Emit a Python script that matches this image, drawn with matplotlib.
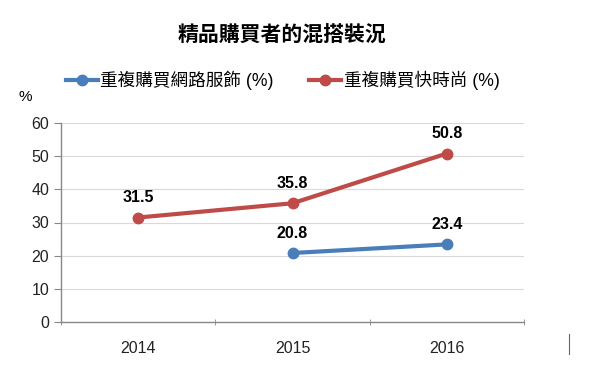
import matplotlib
matplotlib.use("Agg")
import matplotlib.pyplot as plt
import numpy as np
from matplotlib.lines import Line2D

plt.rcParams["font.family"] = ["Liberation Sans", "Noto Sans CJK TC", "DejaVu Sans"]

TITLE = "精品購買者的混搭裝況"
YEARS = ["2014", "2015", "2016"]
ONLINE_LABEL = "重複購買網路服飾 (%)"
ONLINE = [np.nan, 20.8, 23.4]
FAST_LABEL = "重複購買快時尚 (%)"
FAST = [31.5, 35.8, 50.8]

BLUE = "#4A7EBB"
RED = "#BE4B48"
GRAY = "#888888"

fig = plt.figure(figsize=(6.0, 3.73), dpi=100)
ax = fig.add_axes([61 / 600, 1 - 322 / 373, (524 - 61) / 600, (322 - 123) / 373])

x = np.arange(len(YEARS))
ax.plot(x, ONLINE, color=BLUE, lw=3, marker="o", ms=7.5, label=ONLINE_LABEL,
        solid_capstyle="round", zorder=3)
ax.plot(x, FAST, color=RED, lw=3, marker="o", ms=7.5, label=FAST_LABEL,
        solid_capstyle="round", zorder=3)

# data labels above the points
for series in (ONLINE, FAST):
    for xi, v in zip(x, series):
        if np.isnan(v):
            continue
        ax.annotate(f"{v:.1f}", (xi, v), xytext=(0, 20), textcoords="offset pixels",
                    ha="center", va="center", fontsize=11.5, fontweight="bold")

ax.set_xlim(-0.5, len(YEARS) - 0.5)
ax.set_ylim(0, 60)
ax.set_yticks(range(0, 61, 10))
ax.set_xticks(x)
ax.set_xticklabels(YEARS)
ax.set_xticks(np.arange(-0.5, len(YEARS), 1), minor=True)
ax.tick_params(axis="x", which="major", length=0, pad=14, labelsize=11.5, colors="#222222")
ax.tick_params(axis="x", which="minor", length=5, color=GRAY, direction="inout")
ax.tick_params(axis="y", length=5, color=GRAY, labelsize=11.5, labelcolor="#222222")

ax.grid(axis="y", color="#D9D9D9", lw=0.8)
ax.set_axisbelow(True)
for side in ("top", "right"):
    ax.spines[side].set_visible(False)
for side in ("left", "bottom"):
    ax.spines[side].set_color(GRAY)
    ax.spines[side].set_linewidth(1.0)

fig.text(282 / 600, 1 - 36 / 373, TITLE, ha="center", va="center",
         fontsize=15, fontweight="bold")
fig.text(25 / 600, 1 - 97 / 373, "%", ha="center", va="center", fontsize=11)

handles = [
    Line2D([], [], color=BLUE, lw=3, marker="o", ms=7.5),
    Line2D([], [], color=RED, lw=3, marker="o", ms=7.5),
]
fig.legend(handles, [ONLINE_LABEL, FAST_LABEL], ncol=2, frameon=False,
           loc="center left", bbox_to_anchor=(66 / 600, 1 - 80 / 373),
           fontsize=12.7, handlelength=1.8, handletextpad=0.15, columnspacing=2.0,
           borderpad=0, borderaxespad=0)

# small stray mark at bottom right of the original image
fig.add_artist(Line2D([569 / 600, 569 / 600], [1 - 334 / 373, 1 - 354 / 373],
                      color="#666666", lw=0.8))

fig.savefig("out.png", dpi=100, facecolor="white")
